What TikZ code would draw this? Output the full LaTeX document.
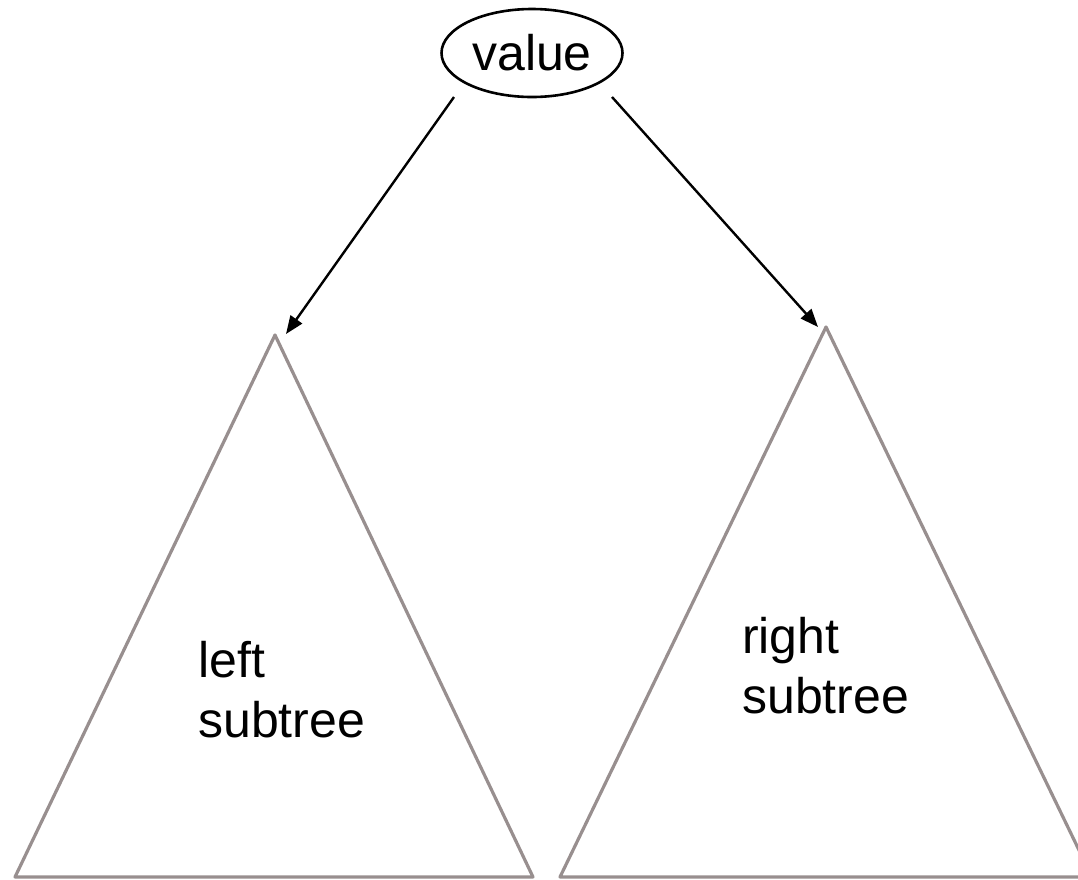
\documentclass[tikz,border=0pt]{standalone}
\usepackage{fontspec}
\setmainfont{Liberation Sans}
\usetikzlibrary{arrows.meta,shapes.geometric}
\begin{document}
\begin{tikzpicture}[x=1pt,y=-1pt,
  treeline/.style={draw={rgb,255:red,152;green,143;blue,143},line width=3.2pt,line join=round},
  link/.style={draw=black,line width=2.4pt,-{Triangle[length=18pt,width=14pt]}},
  label/.style={font=\fontsize{50}{60}\selectfont,inner sep=0pt,align=left}]
  \useasboundingbox (0,0) rectangle (1078,879);

  % root value
  \node[ellipse,draw,line width=2.6pt,minimum width=181pt,minimum height=88pt,inner sep=0pt,
        font=\fontsize{50}{60}\selectfont] (val) at (532,53) {value};

  % left subtree
  \coordinate (la) at (275,335);
  \coordinate (lb1) at (15,877);
  \coordinate (lb2) at (533,877);
  \path[treeline] (la) -- (lb1) -- (lb2) -- cycle;
  \node[label,anchor=base west] (ltext) at (198,737) {left\\subtree};

  % right subtree
  \coordinate (ra) at (826,327);
  \coordinate (rb1) at (560,877);
  \coordinate (rb2) at (1092,877);
  \path[treeline] (ra) -- (rb1) -- (rb2) -- cycle;
  \node[label,anchor=base west] (rtext) at (742,713) {right\\subtree};

  % connectors from the root to each subtree
  \coordinate (ls) at (454,97);
  \coordinate (rs) at (612,97);
  \coordinate (lt) at (286,334);
  \coordinate (rt) at (818,327);
  \draw[link] (ls) -- (lt);
  \draw[link] (rs) -- (rt);
\end{tikzpicture}
\end{document}
